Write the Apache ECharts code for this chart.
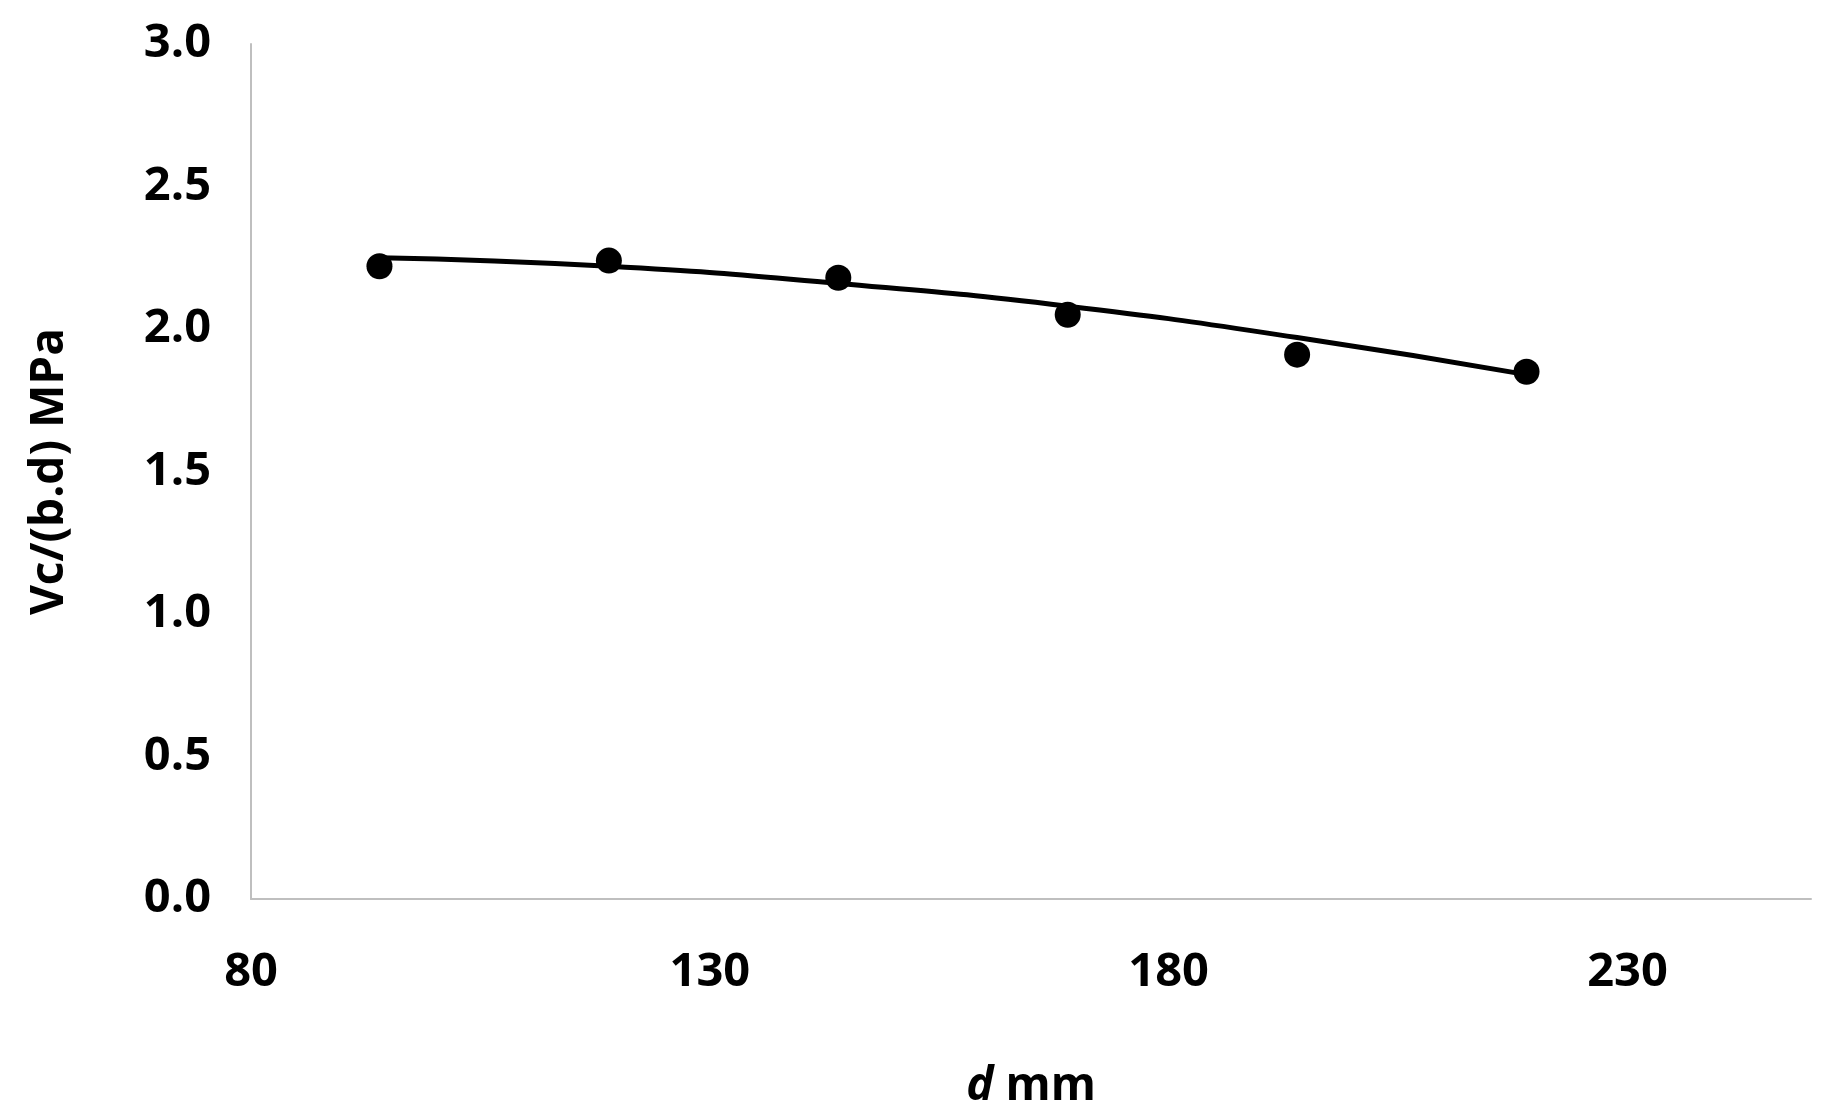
<!DOCTYPE html>
<html>
<head>
<meta charset="utf-8">
<script src="https://cdn.jsdelivr.net/npm/echarts@6/dist/echarts.min.js"></script>
<style>html,body{margin:0;background:#fff}#c{width:1832px;height:1120px}</style>
</head>
<body>
<div id="c"></div>
<script>
// measured points
var depth = [94, 119, 144, 169, 194, 219]
var stress = [2.22, 2.24, 2.18, 2.05, 1.91, 1.85]
// trendline
var trendX = [94, 119, 144, 169, 194, 219]
var trendY = [2.25, 2.22, 2.16, 2.08, 1.97, 1.84]

var font = '"Open Sans", sans-serif'
var chart = echarts.init(document.getElementById('c'))
chart.setOption({
    animation: false,
    grid: {left: 251, right: 21, top: 44, bottom: 221},
    xAxis: {
        type: 'value', min: 80, max: 250, interval: 50,
        name: '{i|d} mm', nameLocation: 'middle', nameGap: 165,
        nameTextStyle: {fontFamily: font, fontWeight: 'bold', fontSize: 46, color: '#000',
            rich: {i: {fontStyle: 'italic', fontFamily: font, fontWeight: 'bold', fontSize: 46, color: '#000'}}},
        axisLine: {lineStyle: {color: '#bfbfbf', width: 2}},
        axisTick: {show: false},
        splitLine: {show: false},
        axisLabel: {fontFamily: font, fontWeight: 'bold', fontSize: 47, color: '#000', margin: 50,
            formatter: function (v) { return v === 250 ? '' : v }}
    },
    yAxis: {
        type: 'value', min: 0, max: 3, interval: 0.5,
        name: 'Vc/(b.d) MPa', nameLocation: 'middle', nameGap: 178,
        nameTextStyle: {fontFamily: font, fontWeight: 'bold', fontSize: 46, color: '#000'},
        axisLine: {show: true, lineStyle: {color: '#bfbfbf', width: 2}},
        axisTick: {show: false},
        splitLine: {show: false},
        axisLabel: {fontFamily: font, fontWeight: 'bold', fontSize: 47, color: '#000', margin: 40,
            formatter: function (v) { return v.toFixed(1) }}
    },
    series: [
        {
            type: 'line', smooth: true, showSymbol: false,
            data: trendX.map(function (x, i) { return [x, trendY[i]] }),
            lineStyle: {color: '#000', width: 5}
        },
        {
            type: 'scatter', symbolSize: 26,
            data: depth.map(function (x, i) { return [x, stress[i]] }),
            itemStyle: {color: '#000', opacity: 1}
        }
    ]
})
</script>
</body>
</html>
